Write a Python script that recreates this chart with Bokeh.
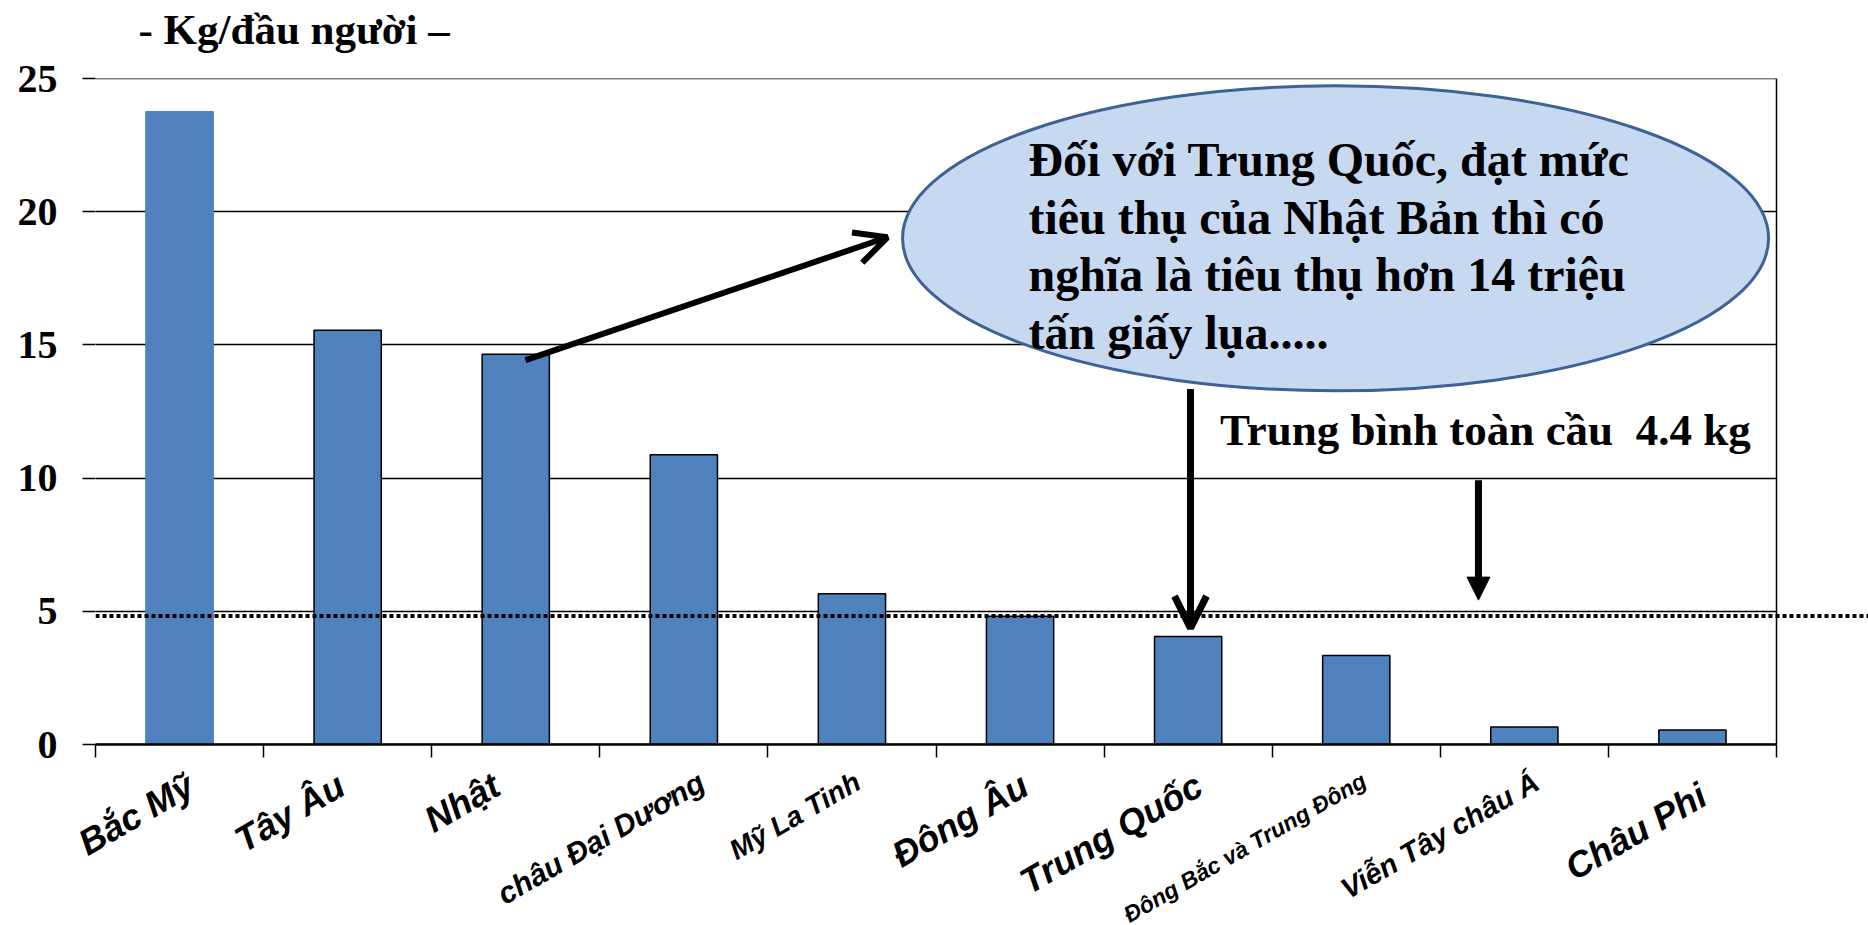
from bokeh.plotting import figure
from bokeh.layouts import column
from bokeh.models import (Range1d, FixedTicker, Label, Arrow, OpenHead, NormalHead,
                          ColumnDataSource, Span, LinearAxis)
from bokeh.core.properties import value
from bokeh.embed import file_html
from bokeh.resources import INLINE

# ---------------- data ----------------
categories = ["Bắc Mỹ", "Tây Âu", "Nhật", "châu Đại Dương", "Mỹ La Tinh",
              "Đông Âu", "Trung Quốc", "Đông Bắc và Trung Đông", "Viễn Tây châu Á", "Châu Phi"]
kg_per_capita = [23.75, 15.55, 14.65, 10.88, 5.66, 4.81, 4.05, 3.34, 0.66, 0.54]
y_ticks = [0, 5, 10, 15, 20, 25]
avg_line_value = 4.82
title_text = "- Kg/đầu người –"
note_lines = ["Đối với Trung Quốc, đạt mức",
              "tiêu thụ của Nhật Bản thì có",
              "nghĩa là tiêu thụ hơn 14 triệu",
              "tấn giấy lụa....."]
avg_text = "Trung bình toàn cầu \u00a04.4 kg"

# ---------------- style / layout ----------------
label_size = ["36px", "36px", "36px", "30px", "28px", "36px", "36px", "23px", "29px", "36px"]
label_dx = [11, -6, -19, 18, 6, 5, 11, 8, 12, 11]     # px nudges of label ends
label_dy = [38, 38, 38, 35, 35, 38, 38, 34, 35, 48]   # px below the axis line
BAR = "#4F81BD"
SERIF = "Liberation Serif"
SANS = "Liberation Sans"

FIG_W = 1868
FRAME_L, FRAME_T, FRAME_H = 95, 78, 666
CAT_W = 168.1
T_H = 56                       # title strip height
P_TOP = FRAME_T - T_H
P_BOTTOM = 22
P_H = P_TOP + FRAME_H + P_BOTTOM
Q_H = 925 - T_H - P_H

n = len(categories)
x_end = (FIG_W - FRAME_L) / CAT_W


def strip(height):
    f = figure(width=FIG_W, height=height,
               x_range=Range1d(-FRAME_L / CAT_W, x_end), y_range=Range1d(-height, 0),
               output_backend="svg", toolbar_location=None,
               x_axis_location=None, y_axis_location=None,
               min_border_left=0, min_border_right=0, min_border_top=0, min_border_bottom=0)
    f.frame_align = False
    f.outline_line_color = None
    f.grid.visible = False
    f.background_fill_color = "white"
    f.border_fill_color = "white"
    return f


# ---------------- title strip ----------------
t = strip(T_H)
t.text(x=[(138 - FRAME_L) / CAT_W], y=[-29], text=[title_text], text_align="left",
       text_baseline="alphabetic", text_font=value(SERIF), text_font_style="bold",
       text_font_size="43px", text_color="black")

# ---------------- main plot ----------------
p = figure(width=FIG_W, height=P_H, x_range=Range1d(0, x_end), y_range=Range1d(0, 25),
           output_backend="svg", toolbar_location=None, y_axis_location=None,
           min_border_left=FRAME_L, min_border_right=0, min_border_top=P_TOP,
           min_border_bottom=P_BOTTOM)
p.frame_align = False
p.outline_line_color = None
p.background_fill_color = "white"
p.border_fill_color = "white"
p.grid.visible = False

# horizontal grid lines: long inward ticks of an axis, limited to the category area
grid_axis = LinearAxis(ticker=FixedTicker(ticks=y_ticks), axis_line_color=None,
                       major_tick_in=int(round(CAT_W * n)), major_tick_out=0,
                       major_tick_line_color="black", major_tick_line_width=1.5,
                       minor_tick_line_color=None,
                       major_label_overrides={tk: "" for tk in y_ticks},
                       major_label_text_font_size="1px", major_label_standoff=0,
                       level="underlay")
p.add_layout(grid_axis, "left")

# y axis with labels
yax = LinearAxis(ticker=FixedTicker(ticks=y_ticks), axis_line_color=None,
                 major_tick_out=13, major_tick_in=0, major_tick_line_color="black",
                 major_tick_line_width=1.5, minor_tick_line_color=None,
                 major_label_text_font=SERIF, major_label_text_font_style="bold",
                 major_label_text_font_size="40px", major_label_text_color="black",
                 major_label_standoff=25)
p.add_layout(yax, "left")

# x axis: ticks at category boundaries
p.xaxis.bounds = (0, n)
p.xaxis.ticker = FixedTicker(ticks=list(range(n + 1)))
p.xaxis.major_label_overrides = {i: "" for i in range(n + 1)}
p.xaxis.major_label_text_font_size = "1px"
p.xaxis.major_label_standoff = 0
p.xaxis.axis_line_color = "black"
p.xaxis.axis_line_width = 2.5
p.xaxis.major_tick_out = 13
p.xaxis.major_tick_in = 0
p.xaxis.major_tick_line_color = "black"
p.xaxis.major_tick_line_width = 1.5
p.xaxis.minor_tick_line_color = None

# right border of the plot area
p.add_layout(Span(location=n, dimension="height", line_color="black", line_width=1.5))

# bars
src = ColumnDataSource(dict(x=[i + 0.5 for i in range(n)], top=kg_per_capita,
                            line=[BAR] + ["black"] * (n - 1)))
p.vbar(x="x", top="top", bottom=0, width=0.4, fill_color=BAR, line_color="line",
       line_width=1.5, source=src)

# callout ellipse
p.ellipse(x=[7.377], y=[19.0], width=[5.152], height=[11.45], fill_color="#C6D9F1",
          line_color="#3D6294", line_width=3)
for k, line in enumerate(note_lines):
    p.add_layout(Label(x=5.55, y=21.95 - k * 2.16, text=line, text_font=SERIF,
                       text_font_style="bold", text_font_size="48px",
                       text_baseline="alphabetic", text_color="black"))

p.add_layout(Label(x=6.69, y=11.8, text=avg_text, text_font=SERIF, text_font_style="bold",
                   text_font_size="45px", text_baseline="alphabetic", text_color="black"))

# global average dotted line
p.add_layout(Span(location=avg_line_value, dimension="width", line_width=4,
                  line_dash="4 3", line_color="black"))

# arrows
p.add_layout(Arrow(end=OpenHead(size=32, line_width=6, line_color="black"),
                   x_start=2.558, y_start=14.43, x_end=4.711, y_end=19.04,
                   line_width=6, line_color="black"))
p.add_layout(Arrow(end=OpenHead(size=32, line_width=7, line_color="black"),
                   x_start=6.514, y_start=13.34, x_end=6.514, y_end=4.37,
                   line_width=7, line_color="black"))
p.add_layout(Arrow(end=NormalHead(size=23, fill_color="black", line_color="black"),
                   x_start=8.227, y_start=9.92, x_end=8.227, y_end=5.42,
                   line_width=7, line_color="black"))

# ---------------- category labels strip (same x scale) ----------------
q = strip(Q_H)
lx = [i + 0.5 + label_dx[i] / CAT_W for i in range(n)]
ly = [-(label_dy[i] - P_BOTTOM) for i in range(n)]
lsrc = ColumnDataSource(dict(x=lx, y=ly, text=categories, size=label_size))
q.text(x="x", y="y", text="text", source=lsrc, angle=30, angle_units="deg",
       text_align="right", text_baseline="alphabetic", text_font=value(SANS),
       text_font_style="bold italic", text_font_size="size", text_color="black")

layout = column(t, p, q, spacing=0)
open("out.html", "w").write(file_html(layout, INLINE))
